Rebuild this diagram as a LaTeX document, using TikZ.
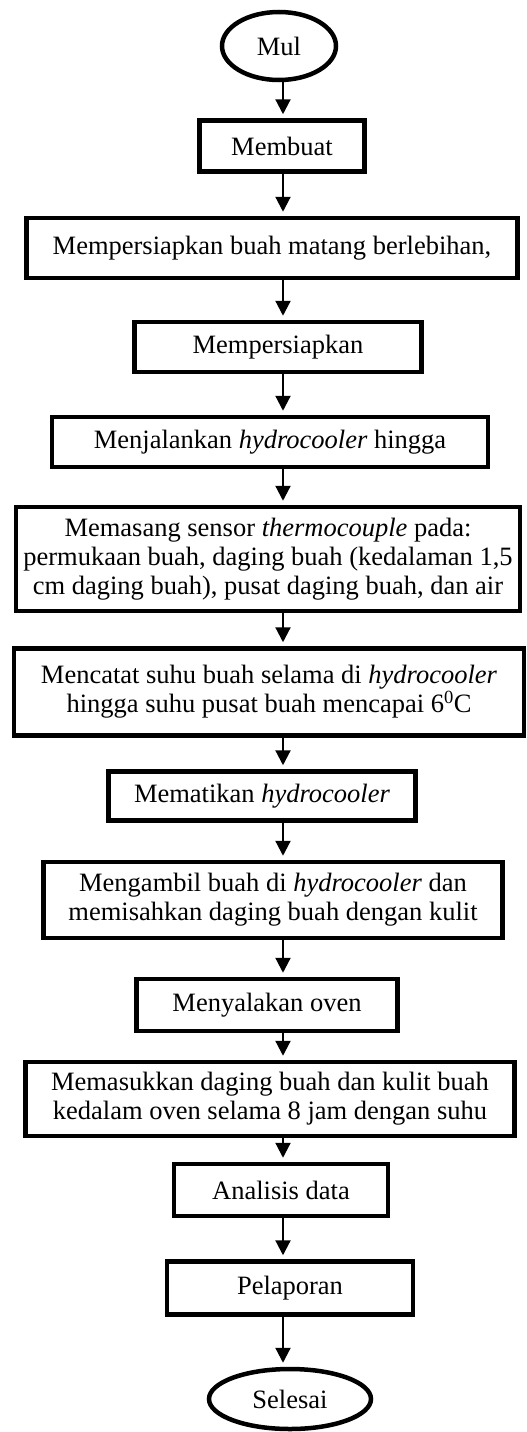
\documentclass[tikz,border=0pt]{standalone}
\usepackage{fontspec}
\setmainfont{Liberation Serif}
\usetikzlibrary{shapes.geometric, arrows.meta}

\tikzset{
    kotak/.style={draw, rectangle, line width=4.5pt, align=center, inner sep=2pt},
    ujung/.style={draw, ellipse, line width=4.5pt, inner sep=0pt},
    panah/.style={line width=2.2pt, -{Triangle[length=15pt,width=15pt]}, shorten >=4pt},
}

\begin{document}
\begin{tikzpicture}[x=1pt, y=-1pt, font=\fontsize{26.5}{29}\selectfont]
    \useasboundingbox (0,0) rectangle (527,1432);
    \coordinate (spine) at (283,0);

    \node (mul) [ujung, minimum width=114pt, minimum height=68pt] at (279,46) {Mul};
    \node (membuat) [kotak, minimum width=165pt, minimum height=51pt] at (282,146) {Membuat};
    \node (siapbuah) [kotak, minimum width=491pt, minimum height=60pt] at (272,248) {Mempersiapkan buah matang berlebihan,};
    \node (siapalat) [kotak, minimum width=287pt, minimum height=50pt] at (278,347) {Mempersiapkan};
    \node (jalan) [kotak, minimum width=436pt, minimum height=50pt] at (270,442) {Menjalankan \textit{hydrocooler} hingga};
    \node (sensor) [kotak, minimum width=504pt, minimum height=104pt] at (268,559) {Memasang sensor \textit{thermocouple} pada:\\ permukaan buah, daging buah (kedalaman 1,5\\ cm daging buah), pusat daging buah, dan air};
    \node (catat) [kotak, minimum width=510pt, minimum height=87pt] at (269,692) {Mencatat suhu buah selama di \textit{hydrocooler}\\ hingga suhu pusat buah mencapai 6\textsuperscript{0}C};
    \node (mati) [kotak, minimum width=307pt, minimum height=49pt] at (262,796) {Mematikan \textit{hydrocooler}};
    \node (ambil) [kotak, minimum width=459pt, minimum height=76pt] at (273,900) {Mengambil buah di \textit{hydrocooler} dan\\ memisahkan daging buah dengan kulit};
    \node (nyala) [kotak, minimum width=261pt, minimum height=52pt] at (267,1005) {Menyalakan oven};
    \node (masuk) [kotak, minimum width=489pt, minimum height=74pt] at (270,1099) {Memasukkan daging buah dan kulit buah\\ kedalam oven selama 8 jam dengan suhu};
    \node (analisis) [kotak, minimum width=214pt, minimum height=52pt] at (281,1190) {Analisis data};
    \node (lapor) [kotak, minimum width=246pt, minimum height=53pt] at (290,1288) {Pelaporan};
    \node (selesai) [ujung, minimum width=162pt, minimum height=60pt] at (290,1399) {Selesai};

    \draw[panah] (mul.south -| spine) -- (membuat.north -| spine);
    \draw[panah] (membuat.south -| spine) -- (siapbuah.north -| spine);
    \draw[panah] (siapbuah.south -| spine) -- (siapalat.north -| spine);
    \draw[panah] (siapalat.south -| spine) -- (jalan.north -| spine);
    \draw[panah] (jalan.south -| spine) -- (sensor.north -| spine);
    \draw[panah] (sensor.south -| spine) -- (catat.north -| spine);
    \draw[panah] (catat.south -| spine) -- (mati.north -| spine);
    \draw[panah] (mati.south -| spine) -- (ambil.north -| spine);
    \draw[panah] (ambil.south -| spine) -- (nyala.north -| spine);
    \draw[panah] (nyala.south -| spine) -- (masuk.north -| spine);
    \draw[panah] (masuk.south -| spine) -- (analisis.north -| spine);
    \draw[panah] (analisis.south -| spine) -- (lapor.north -| spine);
    \draw[panah] (lapor.south -| spine) -- (selesai.north -| spine);
\end{tikzpicture}
\end{document}
